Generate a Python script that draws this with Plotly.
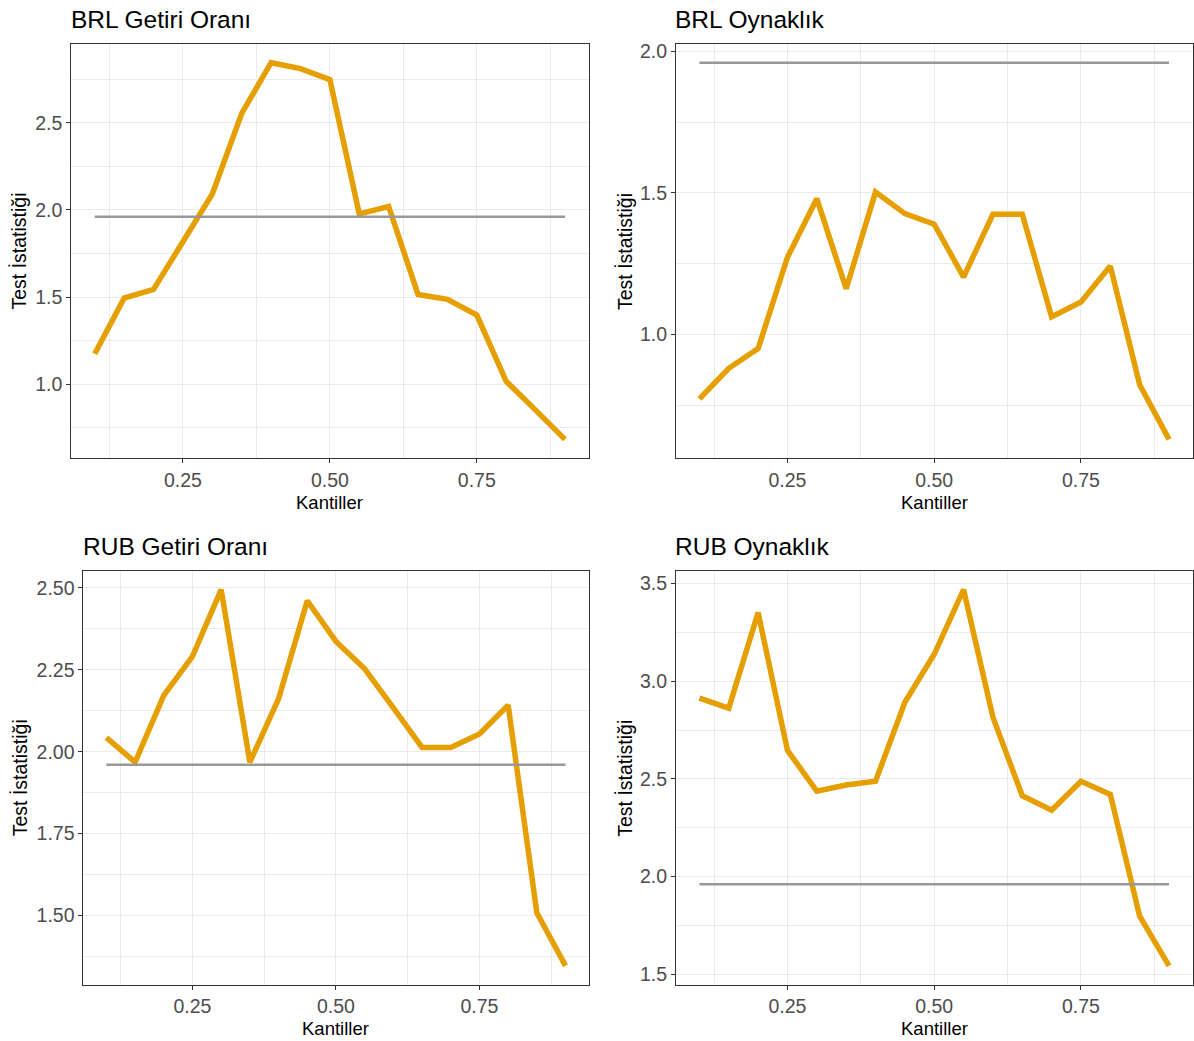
import plotly.graph_objects as go

# Quantile grid and test statistics for each series
quantiles = [0.10, 0.15, 0.20, 0.25, 0.30, 0.35, 0.40, 0.45, 0.50,
             0.55, 0.60, 0.65, 0.70, 0.75, 0.80, 0.85, 0.90]

brl_getiri = [1.175, 1.494, 1.544, 1.816, 2.091, 2.553, 2.844, 2.810, 2.747,
              1.977, 2.019, 1.515, 1.487, 1.397, 1.017, 0.852, 0.684]
brl_oynaklik = [0.773, 0.881, 0.951, 1.273, 1.480, 1.162, 1.503, 1.427, 1.390,
                1.203, 1.425, 1.425, 1.063, 1.115, 1.242, 0.823, 0.630]
rub_getiri = [2.043, 1.968, 2.172, 2.291, 2.495, 1.968, 2.162, 2.461, 2.337,
              2.253, 2.134, 2.013, 2.013, 2.054, 2.142, 1.508, 1.346]
rub_oynaklik = [2.913, 2.862, 3.351, 2.646, 2.437, 2.468, 2.488, 2.892, 3.138,
                3.469, 2.816, 2.413, 2.339, 2.488, 2.420, 1.797, 1.542]

critical_value = 1.96

titles = ["BRL Getiri Oranı", "BRL Oynaklık", "RUB Getiri Oranı", "RUB Oynaklık"]
series = [brl_getiri, brl_oynaklik, rub_getiri, rub_oynaklik]
x_ticks = [0.25, 0.50, 0.75]
y_ticks = [
    [1.0, 1.5, 2.0, 2.5],
    [1.0, 1.5, 2.0],
    [1.50, 1.75, 2.00, 2.25, 2.50],
    [1.5, 2.0, 2.5, 3.0, 3.5],
]
y_formats = [".1f", ".1f", ".2f", ".1f"]
y_minor_step = [0.25, 0.25, 0.125, 0.25]

W, H = 1194, 1041
# panel boxes in pixels: left, right, top, bottom
boxes = [
    (71.3, 589.0, 40.0, 456.0),
    (676.5, 1193.5, 40.0, 456.0),
    (83.5, 589.0, 569.0, 984.5),
    (676.5, 1193.5, 569.0, 984.5),
]

FONT = "Liberation Sans, Arial, Helvetica, sans-serif"
LINE_COLOR = "#E69F00"
REF_COLOR = "#999999"
GRID = "#EBEBEB"
BORDER = "#333333"

fig = go.Figure()
annotations = []

for i, (vals, title) in enumerate(zip(series, titles)):
    n = i + 1
    xa = "x" if n == 1 else f"x{n}"
    ya = "y" if n == 1 else f"y{n}"
    xkey = "xaxis" if n == 1 else f"xaxis{n}"
    ykey = "yaxis" if n == 1 else f"yaxis{n}"
    left, right, top, bottom = boxes[i]

    fig.add_trace(go.Scatter(
        x=quantiles, y=vals, mode="lines", xaxis=xa, yaxis=ya,
        line=dict(color=LINE_COLOR, width=5.5), showlegend=False, hoverinfo="skip"))
    fig.add_trace(go.Scatter(
        x=quantiles, y=[critical_value] * len(quantiles), mode="lines",
        xaxis=xa, yaxis=ya, line=dict(color=REF_COLOR, width=2.5),
        showlegend=False, hoverinfo="skip"))

    # ggplot-style 5% expansion of the data range
    lo = min(min(vals), critical_value)
    hi = max(max(vals), critical_value)
    pad = 0.05 * (hi - lo)
    xlo, xhi = min(quantiles), max(quantiles)
    xpad = 0.05 * (xhi - xlo)

    common = dict(
        showline=True, linecolor=BORDER, linewidth=1, mirror=True,
        showgrid=True, gridcolor=GRID, gridwidth=1.2,
        ticks="outside", ticklen=4, tickcolor=BORDER, tickwidth=1,
        tickfont=dict(family=FONT, size=19.5, color="#4D4D4D"),
        zeroline=False,
    )
    fig.layout[xkey] = dict(
        common,
        domain=[left / W, right / W], anchor=ya,
        range=[xlo - xpad, xhi + xpad],
        tickvals=x_ticks, tickformat=".2f",
        minor=dict(dtick=0.125, tick0=0, showgrid=True, gridcolor=GRID,
                   gridwidth=0.8, ticks=""),
    )
    fig.layout[ykey] = dict(
        common,
        domain=[1 - bottom / H, 1 - top / H], anchor=xa,
        range=[lo - pad, hi + pad],
        tickvals=y_ticks[i], tickformat=y_formats[i],
        minor=dict(dtick=y_minor_step[i], tick0=0, showgrid=True,
                   gridcolor=GRID, gridwidth=0.8, ticks=""),
    )

    # panel title
    annotations.append(dict(
        text=title, x=(left - 2.5) / W, y=1 - (top - 24.5) / H,
        xref="paper", yref="paper", xanchor="left", yanchor="middle",
        showarrow=False, font=dict(family=FONT, size=24.5, color="black")))
    # x axis title
    annotations.append(dict(
        text="Kantiller", x=((left + right) / 2) / W, y=1 - (bottom + 44) / H,
        xref="paper", yref="paper", xanchor="center", yanchor="middle",
        showarrow=False, font=dict(family=FONT, size=18.5, color="black")))
    # y axis title
    ytitle_x = 19.5 if left < 300 else 625.5
    annotations.append(dict(
        text="Test İstatistiği", x=ytitle_x / W, y=1 - ((top + bottom) / 2) / H,
        xref="paper", yref="paper", xanchor="center", yanchor="middle",
        textangle=-90, showarrow=False,
        font=dict(family=FONT, size=19.5, color="black")))

fig.update_layout(
    width=W, height=H,
    margin=dict(l=0, r=0, t=0, b=0),
    paper_bgcolor="white", plot_bgcolor="white",
    annotations=annotations,
    font=dict(family=FONT),
)

fig.write_html("out.html")
